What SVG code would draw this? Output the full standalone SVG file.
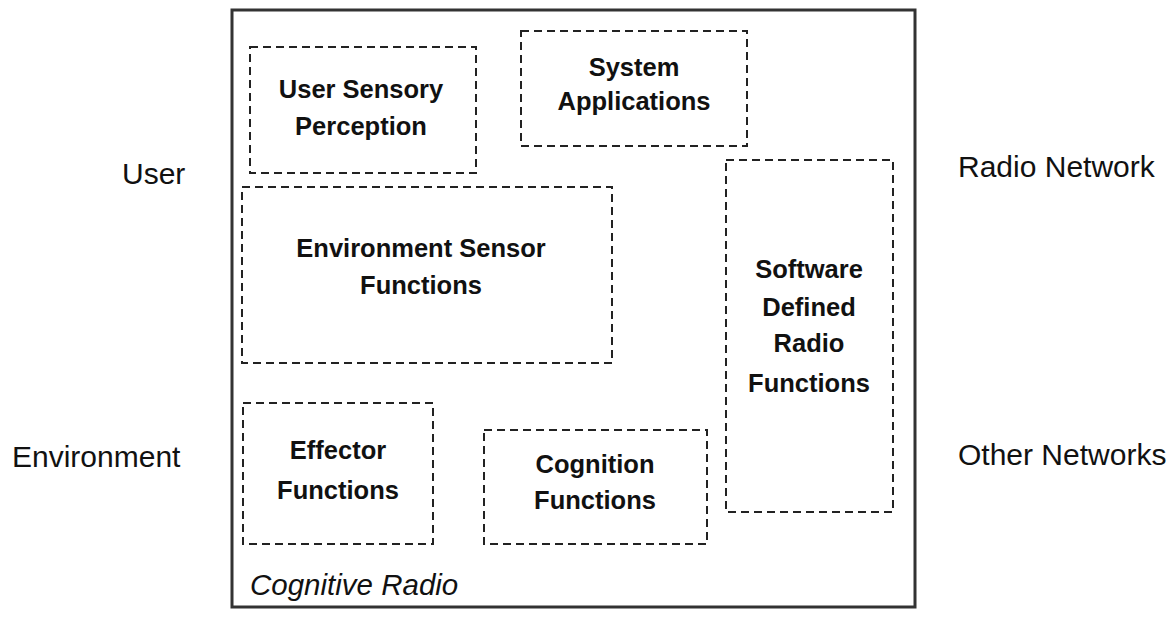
<svg xmlns="http://www.w3.org/2000/svg" width="1176" height="617" viewBox="0 0 1176 617">
<style>
.frame{fill:#fff;stroke:#333;stroke-width:3}
.box{fill:#fff;stroke:#222;stroke-width:2;stroke-dasharray:8 5}
.bt{font-family:"Liberation Sans",Arial,sans-serif;font-weight:bold;font-size:25.5px;fill:#111;text-anchor:middle}
.ot{font-family:"Liberation Sans",Arial,sans-serif;font-size:30px;fill:#111}
.it{font-family:"Liberation Sans",Arial,sans-serif;font-style:italic;font-size:29.5px;fill:#111}
</style>
<rect width="1176" height="617" fill="#fff"/>
<g id="cognitive-radio">
<rect class="frame" x="232" y="10" width="683" height="597"/>
<text class="it" x="250" y="595">Cognitive Radio</text>
</g>
<g id="user-sensory">
<rect class="box" x="250" y="47" width="226" height="126"/>
<text class="bt" x="361" y="98">User Sensory</text>
<text class="bt" x="361" y="135">Perception</text>
</g>
<g id="system-apps">
<rect class="box" x="521" y="31" width="226" height="115"/>
<text class="bt" x="634" y="76">System</text>
<text class="bt" x="634" y="110">Applications</text>
</g>
<g id="env-sensor">
<rect class="box" x="242" y="187" width="370" height="176"/>
<text class="bt" x="421" y="257">Environment Sensor</text>
<text class="bt" x="421" y="294">Functions</text>
</g>
<g id="sdr">
<rect class="box" x="726" y="160" width="167" height="352"/>
<text class="bt" x="809" y="278">Software</text>
<text class="bt" x="809" y="316">Defined</text>
<text class="bt" x="809" y="352">Radio</text>
<text class="bt" x="809" y="392">Functions</text>
</g>
<g id="effector">
<rect class="box" x="243" y="403" width="190" height="141"/>
<text class="bt" x="338" y="459">Effector</text>
<text class="bt" x="338" y="499">Functions</text>
</g>
<g id="cognition">
<rect class="box" x="484" y="430" width="223" height="114"/>
<text class="bt" x="595" y="473">Cognition</text>
<text class="bt" x="595" y="509">Functions</text>
</g>
<g id="user"><text class="ot" x="122" y="184">User</text></g>
<g id="environment"><text class="ot" x="12" y="467">Environment</text></g>
<g id="radio-network"><text class="ot" x="958" y="177">Radio Network</text></g>
<g id="other-networks"><text class="ot" x="958" y="465">Other Networks</text></g>
<g id="connectors"></g>
</svg>
